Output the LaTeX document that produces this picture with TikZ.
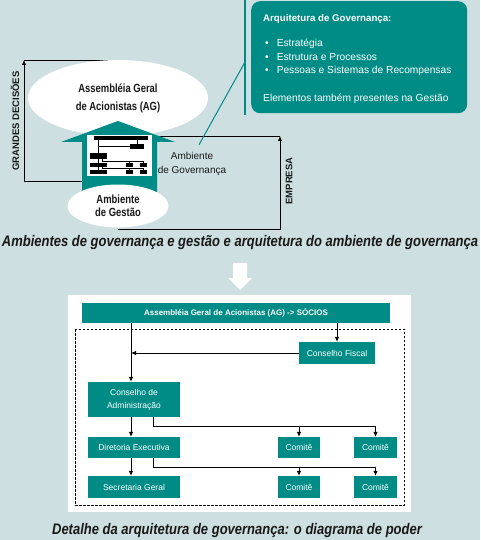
\documentclass[tikz,border=0pt]{standalone}
\usepackage{fontspec}
\setmainfont{Liberation Sans}
\newfontfamily\condfont{Liberation Sans}[FakeStretch=0.85]
\newfontfamily\narrowfont{Liberation Sans}[FakeStretch=0.8]
\usetikzlibrary{shapes.geometric, arrows.meta}
\definecolor{govteal}{RGB}{0,140,134}
\definecolor{govbg}{RGB}{205,223,224}
\definecolor{govink}{RGB}{25,25,25}

\begin{document}
\begin{tikzpicture}[x=1pt, y=-1pt,
      % --- GLOBAL STYLES ---
      every node/.style={font=\fontsize{10}{14}\selectfont, text=govink},
      env-ell/.style={ellipse, fill=white, inner sep=0pt, align=center},
      org-box/.style={rectangle, fill=govteal, text=white, inner sep=0pt, minimum height=22pt, align=center, font=\fontsize{8.5}{13}\selectfont},
      arch-box/.style={rectangle, fill=govteal, rounded corners=9pt},
      arch-txt/.style={text=white, align=left, inner sep=0pt, font=\fontsize{10.2}{13.3}\selectfont},
      side-lbl/.style={rotate=90, font=\bfseries\fontsize{9.5}{11}\selectfont},
      cap-text/.style={font=\condfont\bfseries\itshape\fontsize{15.3}{17}\selectfont},
      line/.style={draw=black, line width=0.8pt},
      arr/.style={line, -{Latex[length=5pt, width=4.5pt]}},
      teal-line/.style={draw=govteal, line width=1.4pt},
      mini/.style={fill=black}
  ]
    %
    % 0. Canvas
    \fill[govbg] (0,0) rectangle (480,540);
    \useasboundingbox (0,0) rectangle (480,540);
    %
    % 1. Arquitetura de Governanca
    \coordinate (vtop) at (245,0);
    \coordinate (vjoin) at (245,62);
    \coordinate (vbot) at (245,115);
    \draw[teal-line] (vtop) -- (vbot);
    \node[arch-box, anchor=north west, minimum width=216pt, minimum height=112pt] (arch) at (251,1) {};
    \node[arch-txt, anchor=north west] (archtxt) at (263,14.5)
      {{\bfseries\fontsize{9.7}{13.3}\selectfont Arquitetura de Governança:}\\[11.7pt]
       \hspace*{2pt}\textbullet\hspace{8pt}Estratégia\\
       \hspace*{2pt}\textbullet\hspace{8pt}Estrutura e Processos\\
       \hspace*{2pt}\textbullet\hspace{8pt}Pessoas e Sistemas de Recompensas\\[14.7pt]
       Elementos também presentes na Gestão};
    %
    % 2. Brackets (drawn below the shapes)
    \coordinate (gd-top) at (24,60);
    \coordinate (gd-bot) at (24,181);
    \coordinate (shaft-l) at (82,181);
    \coordinate (em-top) at (280,136);
    \coordinate (em-bot) at (280,229);
    \coordinate (arr-r) at (159,136);
    \draw[arr] (shaft-l) -- (gd-bot) -- (gd-top);
    \draw[line] (gd-top) -- (gd-top -| 118,0);
    \draw[arr] (118,229) -- (em-bot) -- (em-top);
    \draw[line] (em-top) -- (arr-r);
    \node[side-lbl] (grandes) at (15,121) {GRANDES DECISÕES};
    \node[side-lbl] (empresa) at (289,181) {EMPRESA};
    %
    % 3. Ambientes
    \node[env-ell, minimum width=180pt, minimum height=76pt, font=\narrowfont\bfseries\fontsize{11.8}{18}\selectfont] (agell) at (118,98)
      {Assembléia Geral\\de Acionistas (AG)};
    \fill[govteal] (61,142) -- (118,121) -- (175,142) -- (157,142) -- (157,192) -- (82,192) -- (82,142) -- cycle;
    \fill[white] (87,135) rectangle (152,176);
    % mini diagram of power
    \fill[mini] (94,136.5) rectangle (148,140);
    \fill[mini] (130,144) rectangle (144,149);
    \fill[mini] (90,153) rectangle (107,159);
    \fill[mini] (90,163) rectangle (107,167);
    \fill[mini] (90,170) rectangle (107,174);
    \fill[mini] (126,163) rectangle (133,167);
    \fill[mini] (140,163) rectangle (147,167);
    \fill[mini] (126,170) rectangle (133,174);
    \fill[mini] (140,170) rectangle (147,174);
    \draw[line width=0.5pt] (98,140) -- (98,153) (130,146.5) -- (98,146.5) (137,140) -- (137,144);
    \draw[line width=0.5pt] (98,159) -- (98,163) (102,159) |- (143,161) (129.5,161) -- (129.5,163) (143,161) -- (143,163);
    \draw[line width=0.5pt] (98,167) -- (98,170) (102,167) |- (143,168.5) (129.5,168.5) -- (129.5,170) (143,168.5) -- (143,170);
    \node[env-ell, minimum width=101pt, minimum height=43pt, font=\narrowfont\bfseries\fontsize{11.8}{12.5}\selectfont] (gestell) at (118,206)
      {Ambiente\\de Gestão};
    \node[align=center] (govlbl) at (192,164) {Ambiente\\de Governança};
    \draw[teal-line, line width=1pt] ([shift={(7pt,4pt)}]govlbl.north) -- (vjoin);
    %
    % 4. Caption and transition
    \node[cap-text] (cap1) at (240,243) {Ambientes de governança e gestão e arquitetura do ambiente de governança};
    \fill[white] (233,263) -- (247,263) -- (247,278) -- (252,278) -- (240,290) -- (228,278) -- (233,278) -- cycle;
    %
    % 5. Diagrama de poder
    \fill[white] (68,295) rectangle (411,512);
    \draw[black, line width=0.7pt, dash pattern=on 2.5pt off 1.5pt] (75,329) rectangle (404,505);
    \node[org-box, minimum width=308pt, minimum height=20pt, font=\bfseries\fontsize{8}{10}\selectfont] (agbar) at (236,313)
      {Assembléia Geral de Acionistas (AG) -> SÓCIOS};
    \node[org-box, minimum width=76pt] (fiscal) at (337,353) {Conselho Fiscal};
    \node[org-box, minimum width=92pt, minimum height=35pt] (ca) at (134,399.5) {Conselho de\\Administração};
    \node[org-box, minimum width=92pt, minimum height=21pt] (de) at (134,447.5) {Diretoria Executiva};
    \node[org-box, minimum width=92pt] (sg) at (134,487) {Secretaria Geral};
    \node[org-box, minimum width=42pt, minimum height=21pt] (com-a1) at (299,447.5) {Comitê};
    \node[org-box, minimum width=43pt, minimum height=21pt] (com-a2) at (375.5,447.5) {Comitê};
    \node[org-box, minimum width=42pt] (com-b1) at (299,487) {Comitê};
    \node[org-box, minimum width=43pt] (com-b2) at (375.5,487) {Comitê};
    %
    % 6. Links
    \coordinate (trunk) at ([xshift=-3pt]ca.north);
    \draw[arr] (agbar.south -| fiscal.north) -- (fiscal.north);
    \draw[arr] (agbar.south -| trunk) -- (trunk);
    \draw[arr] (fiscal.west) -- (fiscal.west -| trunk);
    \draw[arr] (ca.south -| trunk) -- (de.north -| trunk);
    \draw[arr] (de.south -| trunk) -- (sg.north -| trunk);
    \draw[arr] ([xshift=19pt]ca.south) |- ([yshift=10pt]com-a2.north) -- (com-a2.north);
    \draw[arr] ([yshift=10pt]com-a1.north) -- (com-a1.north);
    \draw[arr] ([xshift=19pt]de.south) |- ([yshift=8pt]com-b2.north) -- (com-b2.north);
    \draw[arr] ([yshift=8pt]com-b1.north) -- (com-b1.north);
    %
    % 7. Caption
    \node[cap-text] (cap2) at (237,531) {Detalhe da arquitetura de governança: o diagrama de poder};
  \end{tikzpicture}
\end{document}
